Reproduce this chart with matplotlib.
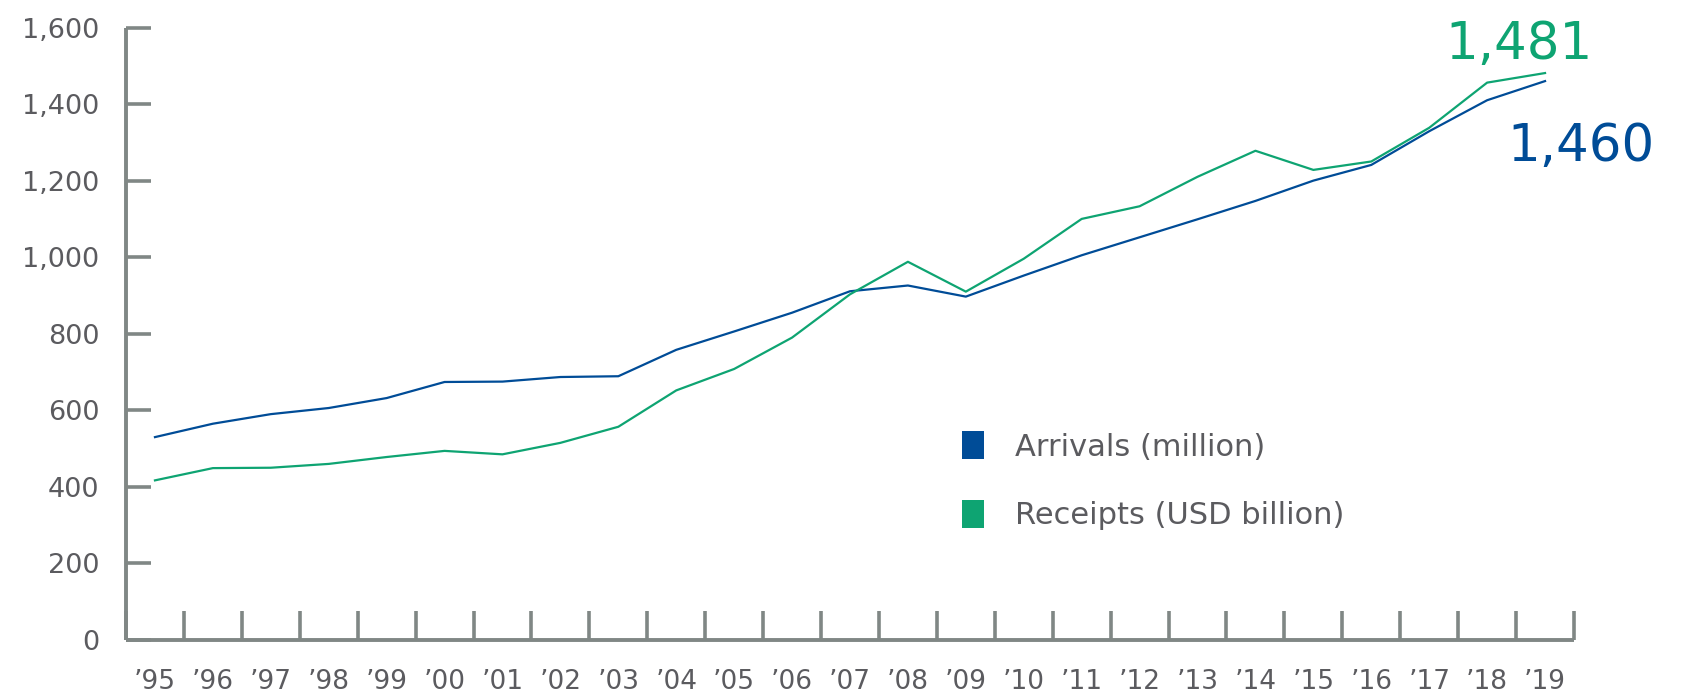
import matplotlib.pyplot as plt
from matplotlib.patches import Patch
from matplotlib.ticker import FuncFormatter, MultipleLocator

years = ["\u201995", "\u201996", "\u201997", "\u201998", "\u201999", "\u201900", "\u201901",
         "\u201902", "\u201903", "\u201904", "\u201905", "\u201906", "\u201907", "\u201908",
         "\u201909", "\u201910", "\u201911", "\u201912", "\u201913", "\u201914", "\u201915",
         "\u201916", "\u201917", "\u201918", "\u201919"]
arrivals = [530, 565, 590, 606, 632, 674, 675, 687, 689, 758, 806, 855, 911, 926, 897,
            952, 1005, 1052, 1099, 1147, 1200, 1241, 1329, 1410, 1460]
receipts = [417, 449, 450, 460, 478, 494, 485, 515, 557, 652, 708, 790, 903, 988, 910,
            996, 1100, 1133, 1210, 1278, 1228, 1250, 1338, 1456, 1481]

blue = "#004c97"
green = "#0ea472"
axis_grey = "#808785"
text_grey = "#5b5b5f"

plt.rcParams["font.family"] = ["DejaVu Sans"]

fig = plt.figure(figsize=(16.88, 6.95), dpi=100)
ax = fig.add_axes([126 / 1688, 55 / 695, (1574 - 126) / 1688, (640 - 27.5) / 695])

x = [i + 0.5 for i in range(len(years))]
ax.plot(x, arrivals, color=blue, lw=1.6, solid_joinstyle="round")
ax.plot(x, receipts, color=green, lw=1.6, solid_joinstyle="round")

ax.set_xlim(0, len(years))
ax.set_ylim(0, 1600)
ax.yaxis.set_major_locator(MultipleLocator(200))
ax.yaxis.set_major_formatter(FuncFormatter(lambda v, p: f"{int(v):,}"))
ax.set_xticks(range(len(years) + 1))
ax.set_xticklabels([])
ax.set_xticks(x, minor=True)
ax.set_xticklabels(years, minor=True)

for s in ["top", "right"]:
    ax.spines[s].set_visible(False)
for s in ["left", "bottom"]:
    ax.spines[s].set_color(axis_grey)
    ax.spines[s].set_linewidth(2.8)
    ax.spines[s].set_capstyle("butt")

ax.tick_params(axis="y", direction="in", length=18, width=2.6, color=axis_grey,
               labelsize=19.5, labelcolor=text_grey, pad=19)
ax.tick_params(axis="x", which="major", direction="in", length=21, width=2.6,
               color=axis_grey)
ax.tick_params(axis="x", which="minor", length=0, labelsize=19,
               labelcolor=text_grey, pad=21)

handles = [Patch(facecolor=blue, edgecolor="none"), Patch(facecolor=green, edgecolor="none")]
leg = fig.legend(handles, ["Arrivals (million)", "Receipts (USD billion)"],
                 loc="upper left", bbox_to_anchor=(962 / 1688, 1 - 431 / 695),
                 frameon=False, fontsize=22, handlelength=0.72, handleheight=1.05,
                 handletextpad=1.0, labelspacing=1.25, borderpad=0, borderaxespad=0)
for t in leg.get_texts():
    t.set_color(text_grey)

fig.text(1519 / 1688, 1 - 59 / 695, "1,481", color=green, fontsize=37, ha="center",
         va="baseline")
fig.text(1581 / 1688, 1 - 161 / 695, "1,460", color=blue, fontsize=37, ha="center",
         va="baseline")

fig.savefig("out.png", dpi=100)
